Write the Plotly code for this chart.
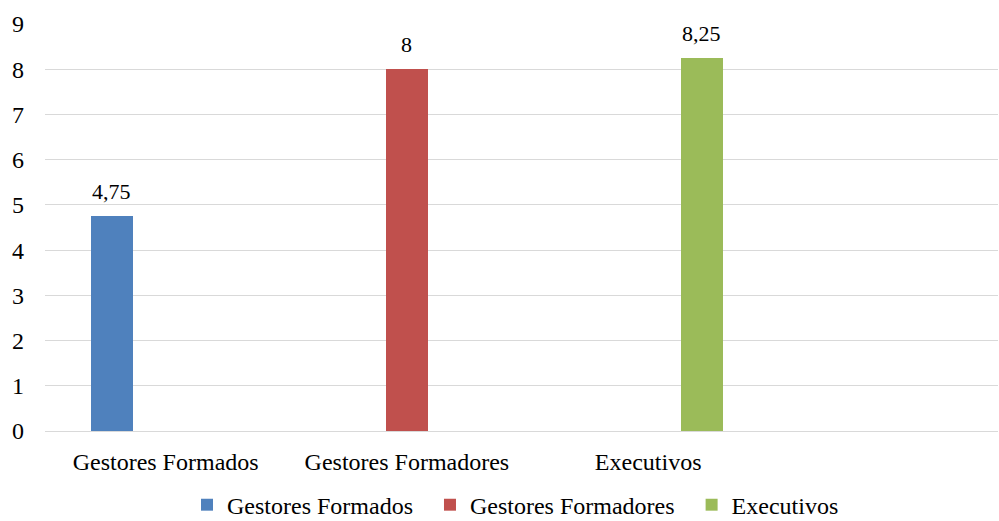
import plotly.graph_objects as go

# Average scores per group
categories = ["Gestores Formados", "Gestores Formadores", "Executivos"]
series_names = ["Gestores Formados", "Gestores Formadores", "Executivos"]
values = [4.75, 8, 8.25]
colors = ["#4F81BD", "#C0504D", "#9BBB59"]
y_ticks = [0, 1, 2, 3, 4, 5, 6, 7, 8, 9]

FONT = "Liberation Serif, Times New Roman, serif"
SLOT = 0.223      # distance between series slots inside a category
BAR_W = 0.174     # bar width in category units
PAD = "\u00a0\u00a0"  # extra room after each legend entry


def fmt(v):
    return f"{v:g}".replace(".", ",")


fig = go.Figure()
annotations = []
for i, (name, val, col) in enumerate(zip(series_names, values, colors)):
    shift = (i - 1) * SLOT
    fig.add_trace(go.Bar(
        name=name + PAD,
        x=[i],
        y=[val],
        width=[BAR_W],
        offset=[shift - BAR_W / 2],
        marker=dict(color=col, line=dict(width=0)),
        hoverinfo="skip",
    ))
    annotations.append(dict(
        x=i + shift, y=val, xref="x", yref="y",
        text=fmt(val), showarrow=False,
        yanchor="bottom", yshift=10,
        font=dict(family=FONT, size=22, color="#000000"),
    ))

fig.update_layout(
    width=999, height=521,
    margin=dict(l=45, r=1, t=24, b=90, autoexpand=False),
    paper_bgcolor="white", plot_bgcolor="white",
    font=dict(family=FONT, size=24, color="#000000"),
    showlegend=True,
    legend=dict(
        orientation="h", x=0.5, xanchor="center",
        y=-0.182, yanchor="middle",
        font=dict(family=FONT, size=24, color="#000000"),
        itemwidth=30, traceorder="normal",
        borderwidth=0, bgcolor="rgba(0,0,0,0)",
    ),
    annotations=annotations,
    bargap=0, barmode="overlay",
)

fig.update_xaxes(
    range=[-0.5, 3.45],
    tickmode="array",
    tickvals=list(range(len(categories))),
    ticktext=categories,
    showgrid=False, zeroline=False, showline=False,
    ticks="", ticklabelstandoff=14,
    tickfont=dict(family=FONT, size=24),
)
fig.update_yaxes(
    range=[0, 9],
    tickmode="array", tickvals=y_ticks,
    ticktext=[str(t) for t in y_ticks],
    showgrid=True, gridcolor="#D9D9D9", gridwidth=1,
    zeroline=True, zerolinecolor="#D9D9D9", zerolinewidth=1,
    showline=False, ticks="",
    ticklabelstandoff=20,
    tickfont=dict(family=FONT, size=24),
)

fig.write_html("out.html")
